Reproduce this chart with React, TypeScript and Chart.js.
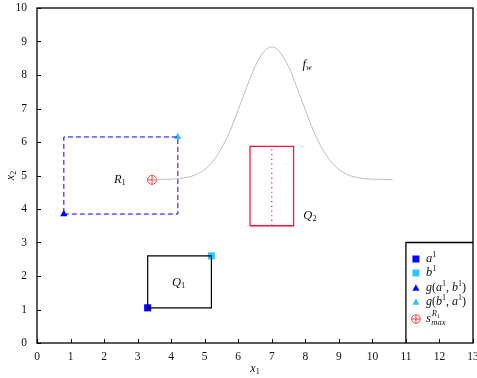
import React, { useEffect, useRef } from "react";
import { Chart, registerables } from "chart.js";

Chart.register(...registerables);

// ---- data ----
const xTicks = [0, 1, 2, 3, 4, 5, 6, 7, 8, 9, 10, 11, 12, 13];
const yTicks = [0, 1, 2, 3, 4, 5, 6, 7, 8, 9, 10];

const R1x = [0.8, 4.2, 4.2, 0.8, 0.8];
const R1y = [3.85, 3.85, 6.15, 6.15, 3.85];
const Q1x = [3.3, 5.2, 5.2, 3.3, 3.3];
const Q1y = [1.05, 1.05, 2.6, 2.6, 1.05];
const Q2x = [6.35, 7.65, 7.65, 6.35, 6.35];
const Q2y = [3.5, 3.5, 5.87, 5.87, 3.5];
const Q2midX = [7, 7];
const Q2midY = [3.5, 5.87];
const fwX = [3.45, 4, 4.5, 4.75, 5, 5.25, 5.5, 5.75, 6, 6.25, 6.5, 6.75, 7, 7.25, 7.5, 7.75, 8, 8.25, 8.5, 8.75, 9, 9.25, 9.5, 10, 10.6];
const fwY = [4.88, 4.89, 4.95, 5.03, 5.18, 5.43, 5.81, 6.32, 6.96, 7.63, 8.25, 8.68, 8.84, 8.68, 8.25, 7.63, 6.96, 6.32, 5.81, 5.43, 5.18, 5.03, 4.95, 4.89, 4.88];
const legendBoxX = [11, 11, 13];
const legendBoxY = [0, 3, 3];
const a1 = [3.3, 1.05];
const b1 = [5.2, 2.6];
const gab = [0.8, 3.85];
const gba = [4.2, 6.15];
const smax = [3.43, 4.87];

const BLUE = "rgb(0,0,255)";
const CYAN = "rgb(45,200,250)";
const RED = "rgb(255,20,60)";
const SRED = "rgb(255,60,60)";
const SERIF = "'Liberation Serif', 'DejaVu Serif', serif";

const pts = (xs: number[], ys: number[]) => xs.map((x, i) => ({ x, y: ys[i] }));

type Part = { t: string; it?: boolean; s?: number; dy?: number; dx?: number };

function drawMath(ctx: CanvasRenderingContext2D, parts: Part[], x: number, y: number, align: "left" | "center" = "left") {
  ctx.save();
  ctx.textBaseline = "alphabetic";
  ctx.textAlign = "left";
  const fontOf = (p: Part) => `${p.it ? "italic " : ""}${p.s || 12}px ${SERIF}`;
  let w = 0;
  for (const p of parts) {
    ctx.font = fontOf(p);
    w += ctx.measureText(p.t).width + (p.dx || 0);
  }
  let cx = align === "center" ? x - w / 2 : x;
  for (const p of parts) {
    ctx.font = fontOf(p);
    cx += p.dx || 0;
    ctx.fillText(p.t, cx, y + (p.dy || 0));
    cx += ctx.measureText(p.t).width;
  }
  ctx.restore();
}

const overlay = {
  id: "overlay",
  afterDraw(chart: any) {
    const ctx: CanvasRenderingContext2D = chart.ctx;
    const xs = chart.scales.x;
    const ys = chart.scales.y;
    const { left, right, top, bottom } = chart.chartArea;
    ctx.save();
    // frame
    ctx.strokeStyle = "#000";
    ctx.lineWidth = 1.3;
    ctx.strokeRect(left, top, right - left, bottom - top);
    // inward ticks
    ctx.lineWidth = 1;
    ctx.beginPath();
    for (const v of xTicks) {
      const px = Math.round(xs.getPixelForValue(v)) + 0.5;
      ctx.moveTo(px, bottom);
      ctx.lineTo(px, bottom - 4);
    }
    for (const v of yTicks) {
      const py = Math.round(ys.getPixelForValue(v)) + 0.5;
      ctx.moveTo(left, py);
      ctx.lineTo(left + 4, py);
    }
    ctx.stroke();
    // tick labels
    ctx.fillStyle = "#111";
    ctx.font = `11.5px ${SERIF}`;
    ctx.textAlign = "center";
    ctx.textBaseline = "top";
    for (const v of xTicks) ctx.fillText(String(v), xs.getPixelForValue(v), bottom + 8);
    ctx.textAlign = "right";
    ctx.textBaseline = "middle";
    for (const v of yTicks) ctx.fillText(String(v), left - 10, ys.getPixelForValue(v));
    // axis titles
    drawMath(ctx, [{ t: "x", it: true, s: 12 }, { t: "1", s: 8, dy: 2 }], (left + right) / 2, 372, "center");
    ctx.save();
    ctx.translate(14, (top + bottom) / 2);
    ctx.rotate(-Math.PI / 2);
    drawMath(ctx, [{ t: "x", it: true, s: 12 }, { t: "2", s: 8, dy: 2 }], 0, 0, "center");
    ctx.restore();
    // region labels
    const X = (v: number) => xs.getPixelForValue(v);
    const Y = (v: number) => ys.getPixelForValue(v);
    drawMath(ctx, [{ t: "R", it: true, s: 12.5 }, { t: "1", s: 8.5, dy: 2 }], X(2.47), Y(4.9) + 4, "center");
    drawMath(ctx, [{ t: "Q", it: true, s: 12.5 }, { t: "1", s: 8.5, dy: 2 }], X(4.22), Y(1.83) + 4, "center");
    drawMath(ctx, [{ t: "Q", it: true, s: 12.5 }, { t: "2", s: 8.5, dy: 2 }], X(8.14), Y(3.82) + 4, "center");
    drawMath(ctx, [{ t: "f", it: true, s: 12.5 }, { t: "w", it: true, s: 8.5, dy: 2 }], X(8.05), Y(8.31) + 3, "center");

    // legend
    const mx = X(11) + 10;
    const tx = X(11) + 20;
    const rows = [259, 273, 288, 302, 319];
    ctx.fillStyle = BLUE;
    ctx.fillRect(mx - 3.5, rows[0] - 3.5, 7, 7);
    ctx.fillStyle = CYAN;
    ctx.fillRect(mx - 3.5, rows[1] - 3.5, 7, 7);
    const tri = (cy: number, col: string) => {
      ctx.fillStyle = col;
      ctx.beginPath();
      ctx.moveTo(mx, cy - 3.8);
      ctx.lineTo(mx + 3.5, cy + 2.8);
      ctx.lineTo(mx - 3.5, cy + 2.8);
      ctx.closePath();
      ctx.fill();
    };
    tri(rows[2], BLUE);
    tri(rows[3], CYAN);
    ctx.strokeStyle = SRED;
    ctx.lineWidth = 1;
    ctx.beginPath();
    ctx.arc(mx, rows[4], 4.3, 0, Math.PI * 2);
    ctx.moveTo(mx - 4.3, rows[4]);
    ctx.lineTo(mx + 4.3, rows[4]);
    ctx.moveTo(mx, rows[4] - 4.3);
    ctx.lineTo(mx, rows[4] + 4.3);
    ctx.stroke();
    ctx.fillStyle = "#111";
    const sup = (t: string): Part => ({ t, s: 8, dy: -5 });
    drawMath(ctx, [{ t: "a", it: true, s: 12.5 }, sup("1")], tx, rows[0] + 3);
    drawMath(ctx, [{ t: "b", it: true, s: 12.5 }, sup("1")], tx, rows[1] + 3);
    drawMath(ctx, [{ t: "g", it: true, s: 12 }, { t: "(", s: 12 }, { t: "a", it: true, s: 12 }, sup("1"), { t: ", ", s: 12 }, { t: "b", it: true, s: 12 }, sup("1"), { t: ")", s: 12 }], tx, rows[2] + 3);
    drawMath(ctx, [{ t: "g", it: true, s: 12 }, { t: "(", s: 12 }, { t: "b", it: true, s: 12 }, sup("1"), { t: ", ", s: 12 }, { t: "a", it: true, s: 12 }, sup("1"), { t: ")", s: 12 }], tx, rows[3] + 3);
    // s_max^{R1}
    ctx.font = `italic 12.5px ${SERIF}`;
    ctx.textBaseline = "alphabetic";
    ctx.textAlign = "left";
    ctx.fillText("s", tx, rows[4] + 3);
    const sw = ctx.measureText("s").width;
    ctx.font = `italic 8.5px ${SERIF}`;
    ctx.fillText("max", tx + sw + 0.5, rows[4] + 6);
    ctx.fillText("R", tx + sw + 1, rows[4] - 3);
    const rw = ctx.measureText("R").width;
    ctx.font = `6px ${SERIF}`;
    ctx.fillText("1", tx + sw + 1 + rw, rows[4] - 1.5);
    ctx.restore();
  },
};

export default function App() {
  const ref = useRef<HTMLCanvasElement>(null);
  useEffect(() => {
    document.body.style.margin = "0";
    const line = (data: any, color: string, width: number, dash: number[] = []) => ({
      type: "scatter",
      data,
      showLine: true,
      borderColor: color,
      borderWidth: width,
      borderDash: dash,
      pointRadius: 0,
      fill: false,
    });
    const marker = (p: number[], style: string, color: string, r: number, filled = true) => ({
      type: "scatter",
      data: [{ x: p[0], y: p[1] }],
      pointStyle: style,
      pointRadius: r,
      backgroundColor: filled ? color : "rgba(0,0,0,0)",
      borderColor: color,
      borderWidth: filled ? 0 : 1,
    });
    const chart = new Chart(ref.current!, {
      type: "scatter",
      data: {
        datasets: [
          { ...line(pts(fwX, fwY), "#bdbdbd", 1), cubicInterpolationMode: "monotone" },
          line(pts(R1x, R1y), BLUE, 1, [5, 3]),
          line(pts(Q1x, Q1y), "#000", 1.2),
          line(pts(Q2x, Q2y), RED, 1.3),
          line(pts(Q2midX, Q2midY), RED, 1.2, [1.2, 3.5]),
          line(pts(legendBoxX, legendBoxY), "#000", 1.3),
          marker(a1, "rect", BLUE, 5),
          marker(b1, "rect", CYAN, 5),
          marker(gab, "triangle", BLUE, 4.2),
          marker(gba, "triangle", CYAN, 4.2),
          marker(smax, "circle", SRED, 4.5, false),
          marker(smax, "cross", SRED, 4.5, false),
        ] as any,
      },
      options: {
        animation: false,
        responsive: false,
        events: [],
        layout: { autoPadding: false, padding: { top: 8, right: 4, left: 0, bottom: 0 } },
        plugins: { legend: { display: false }, tooltip: { enabled: false } },
        scales: {
          x: {
            type: "linear",
            min: 0,
            max: 13,
            ticks: { display: false, stepSize: 1 },
            grid: { display: false, drawTicks: false },
            border: { display: false },
            afterFit: (s: any) => { s.height = 35; s.paddingLeft = 0; s.paddingRight = 0; },
          },
          y: {
            type: "linear",
            min: 0,
            max: 10,
            ticks: { display: false, stepSize: 1 },
            grid: { display: false, drawTicks: false },
            border: { display: false },
            afterFit: (s: any) => { s.width = 37; s.paddingTop = 0; s.paddingBottom = 0; },
          },
        },
      } as any,
      plugins: [overlay],
    });
    return () => chart.destroy();
  }, []);
  return <canvas ref={ref} width={477} height={378} style={{ display: "block" }} />;
}
